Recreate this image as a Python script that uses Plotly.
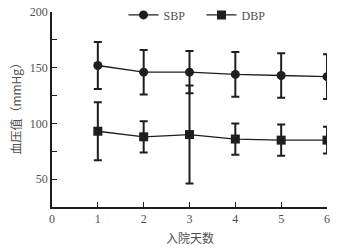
import plotly.graph_objects as go

days = [1, 2, 3, 4, 5, 6]
sbp_mean = [152, 146, 146, 144, 143, 142]
sbp_sd = [21, 20, 19, 20, 20, 20]
dbp_mean = [93, 88, 90, 86, 85, 85]
dbp_sd = [26, 14, 44, 14, 14, 12]

x_ticks = [0, 1, 2, 3, 4, 5, 6]
y_ticks = [50, 75, 100, 125, 150, 175, 200]
y_ticktext = ["50", "", "100", "", "150", "", "200"]
x_title = "入院天数"
y_title = "血压值（mmHg）"

ink = "#1e1e1e"
txt = "#505050"
serif = "Liberation Serif, Times New Roman, serif"
cjk = "Noto Sans CJK SC"
tickfont = dict(family=serif, size=12, color=txt)

fig = go.Figure()
fig.add_trace(go.Scatter(
    x=days, y=sbp_mean, name="SBP", mode="lines+markers",
    line=dict(color=ink, width=1.3),
    marker=dict(symbol="circle", size=9, color=ink),
    error_y=dict(type="data", array=sbp_sd, color=ink, thickness=2, width=4),
))
fig.add_trace(go.Scatter(
    x=days, y=dbp_mean, name="DBP", mode="lines+markers",
    line=dict(color=ink, width=1.3),
    marker=dict(symbol="square", size=9, color=ink),
    error_y=dict(type="data", array=dbp_sd, color=ink, thickness=2, width=4),
))

fig.update_layout(
    width=346, height=248,
    margin=dict(l=52, r=19, t=12, b=41, autoexpand=False),
    paper_bgcolor="white", plot_bgcolor="white",
    font=dict(family=serif, size=12, color=txt),
    showlegend=True,
    legend=dict(orientation="h", x=0.26, xanchor="left", y=0.985, yanchor="middle",
                bgcolor="rgba(0,0,0,0)", font=tickfont,
                entrywidth=33, entrywidthmode="pixels", traceorder="normal"),
    xaxis=dict(range=[0, 6], tickvals=x_ticks, ticks="inside", ticklen=5, tickwidth=1.3,
               tickcolor=ink, tickfont=tickfont, showline=True, linecolor=ink, linewidth=1.6,
               showgrid=False, zeroline=False, automargin=False, ticklabeloverflow="allow"),
    yaxis=dict(range=[25, 200], tickvals=y_ticks, ticktext=y_ticktext, ticks="inside",
               ticklen=5, tickwidth=1.3, tickcolor=ink, tickfont=tickfont, showline=True,
               linecolor=ink, linewidth=1.6, showgrid=False, zeroline=False, automargin=False,
               ticklabeloverflow="allow"),
    annotations=[
        dict(text=x_title, xref="paper", yref="paper", x=0.5, y=0, xanchor="center",
             yanchor="middle", yshift=-30, showarrow=False,
             font=dict(family=cjk, size=12, color=txt)),
        dict(text=y_title, xref="paper", yref="paper", x=0, y=0.52, xanchor="center",
             yanchor="middle", xshift=-36, textangle=-90, showarrow=False,
             font=dict(family=cjk, size=12, color=txt)),
    ],
)

fig.write_html("out.html",
               config={"displayModeBar": False},
               post_script="document.body.style.margin='0';document.body.style.overflow='hidden';")
